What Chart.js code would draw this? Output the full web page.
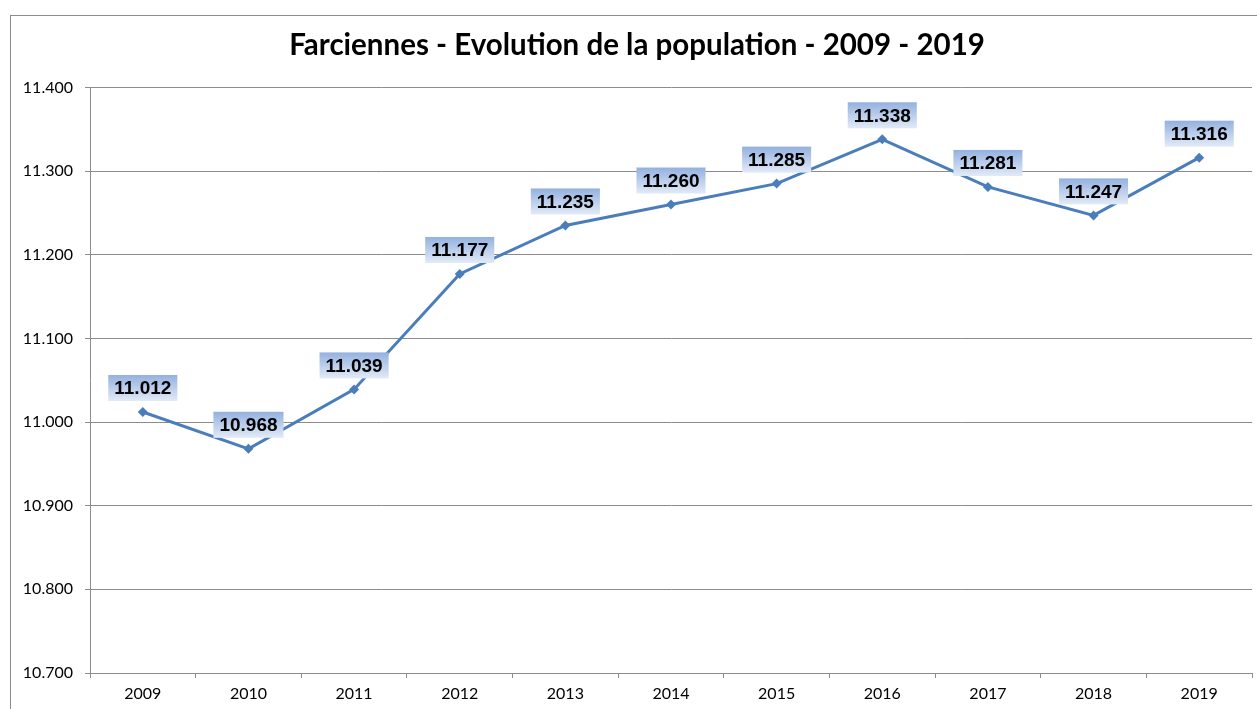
<!DOCTYPE html>
<html lang="fr">
<head>
  <meta charset="UTF-8" />
  <title>Farciennes - population</title>
  <script src="https://cdn.jsdelivr.net/npm/chart.js"></script>
  <style>
    body { margin: 0; background: #fff; }
    #wrap { width: 1257px; height: 709px; }
  </style>
</head>
<body>
<div id="wrap"><canvas id="popChart"></canvas></div>
<script>
  const years = ['2009', '2010', '2011', '2012', '2013', '2014', '2015', '2016', '2017', '2018', '2019'];
  const population = [11012, 10968, 11039, 11177, 11235, 11260, 11285, 11338, 11281, 11247, 11316];
  const chartTitle = 'Farciennes - Evolution de la population - 2009 - 2019';

  // 11012 -> "11.012"
  function fmt(v) {
    return String(Math.round(v)).replace(/\B(?=(\d{3})+(?!\d))/g, '.');
  }

  const frame = {
    id: 'frame',
    beforeDraw(chart) {
      const c = chart.ctx;
      c.save();
      c.strokeStyle = '#8c8c8c';
      c.lineWidth = 1;
      c.strokeRect(10.5, 15.5, 1400, 900);
      c.restore();
    }
  };

  const valueBoxes = {
    id: 'valueBoxes',
    afterDatasetsDraw(chart) {
      const c = chart.ctx;
      const pts = chart.getDatasetMeta(0).data;
      c.save();
      c.font = 'bold 19px "Liberation Sans", Arial, sans-serif';
      c.textAlign = 'center';
      c.textBaseline = 'middle';
      pts.forEach((p, i) => {
        const txt = fmt(population[i]);
        const w = c.measureText(txt).width + 12;
        const h = 26;
        const x0 = p.x - w / 2;
        const y0 = p.y - 11 - h;
        const g = c.createLinearGradient(0, y0, 0, y0 + h);
        g.addColorStop(0, '#93b1df');
        g.addColorStop(1, '#e2eaf7');
        c.fillStyle = g;
        c.fillRect(x0, y0, w, h);
        c.fillStyle = '#000';
        c.fillText(txt, p.x, y0 + h / 2 + 1);
      });
      c.restore();
    }
  };

  new Chart(document.getElementById('popChart'), {
    type: 'line',
    data: {
      labels: years,
      datasets: [{
        data: population,
        borderColor: '#4a7ebb',
        backgroundColor: '#4a7ebb',
        borderWidth: 3,
        pointStyle: 'rectRot',
        pointRadius: 5,
        pointBorderWidth: 0,
        tension: 0,
        fill: false
      }]
    },
    options: {
      responsive: true,
      maintainAspectRatio: false,
      animation: false,
      layout: { padding: { left: 22, right: 5, top: 0, bottom: 0 } },
      plugins: {
        legend: { display: false },
        tooltip: { enabled: false },
        title: {
          display: true,
          text: chartTitle,
          color: '#000',
          font: { family: 'Lato, "Open Sans", sans-serif', size: 29.5, weight: 'bold' },
          padding: { top: 28, bottom: 24 }
        }
      },
      scales: {
        x: {
          offset: true,
          grid: {
            offset: true,
            drawOnChartArea: false,
            drawTicks: true,
            tickLength: 5,
            color: '#8c8c8c'
          },
          border: { color: '#8c8c8c' },
          ticks: {
            color: '#000',
            padding: 6,
            font: { family: 'Lato, "Open Sans", sans-serif', size: 16 }
          },
          afterFit(s) { s.height = 36; }
        },
        y: {
          min: 10700,
          max: 11400,
          ticks: {
            stepSize: 100,
            color: '#000',
            padding: 12,
            font: { family: 'Lato, "Open Sans", sans-serif', size: 16 },
            callback: v => fmt(v)
          },
          grid: { color: '#8c8c8c', tickLength: 5 },
          border: { color: '#8c8c8c' },
          afterFit(s) { s.width = 68; }
        }
      }
    },
    plugins: [frame, valueBoxes]
  });
</script>
</body>
</html>
